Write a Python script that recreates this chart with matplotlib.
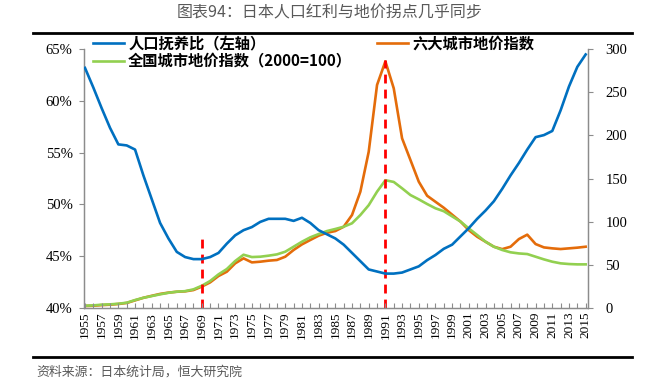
import matplotlib
matplotlib.use("Agg")
import matplotlib.pyplot as plt
from matplotlib.lines import Line2D
from matplotlib.ticker import FixedLocator, FuncFormatter

# ---------------- data ----------------
years = list(range(1955, 2016))

dependency_ratio = [  # 人口抚养比（左轴）, %
    63.2, 61.3, 59.3, 57.4, 55.8, 55.7, 55.3, 52.8, 50.5, 48.2,
    46.7, 45.4, 44.9, 44.7, 44.7, 44.9, 45.3, 46.2, 47.0, 47.5,
    47.8, 48.3, 48.6, 48.6, 48.6, 48.4, 48.7, 48.2, 47.5, 47.1,
    46.7, 46.1, 45.3, 44.5, 43.7, 43.5, 43.3, 43.3, 43.4, 43.7,
    44.0, 44.6, 45.1, 45.7, 46.1, 46.9, 47.7, 48.6, 49.4, 50.3,
    51.5, 52.8, 54.0, 55.3, 56.5, 56.7, 57.1, 59.1, 61.4, 63.3,
    64.5,
]

six_city_index = [  # 六大城市地价指数
    2.0, 2.3, 3.0, 3.5, 4.3, 5.5, 8.5, 11.5, 13.8, 16.0,
    17.5, 18.5, 19.0, 20.5, 24.5, 29.4, 36.8, 41.8, 51.5, 57.3,
    52.6, 53.4, 54.6, 55.4, 59.2, 67.0, 73.5, 78.6, 83.6, 87.0,
    89.0, 94.0, 107.6, 134.7, 181.0, 258.6, 286.0, 254.7, 196.6, 171.5,
    146.3, 130.0, 123.0, 116.0, 108.0, 100.0, 90.0, 82.4, 76.6, 70.8,
    68.0, 70.8, 79.7, 84.8, 73.9, 70.0, 68.9, 68.1, 68.9, 69.7,
    70.8,
]

national_index = [  # 全国城市地价指数（2000=100）
    2.3, 2.7, 3.5, 3.9, 4.6, 5.8, 8.9, 11.5, 13.5, 15.5,
    17.3, 18.6, 19.2, 21.3, 25.5, 31.0, 38.7, 44.9, 54.2, 61.5,
    58.8, 59.2, 60.4, 61.9, 65.0, 70.8, 76.6, 81.7, 85.5, 89.0,
    91.4, 94.0, 98.0, 107.6, 119.0, 134.7, 148.0, 146.0, 138.6, 130.8,
    125.8, 120.4, 115.4, 112.0, 106.0, 100.0, 92.0, 84.4, 76.6, 70.8,
    67.0, 64.3, 63.0, 62.3, 59.2, 56.1, 53.4, 51.5, 50.7, 50.3,
    50.3,
]

turning_years = [1969, 1991]
turning_tops = [83, 288]          # right-axis heights of the red dashed markers

left_ticks = [40, 45, 50, 55, 60, 65]
right_ticks = [0, 50, 100, 150, 200, 250, 300]
label_years = list(range(1955, 2016, 2))

title = "图表94：日本人口红利与地价拐点几乎同步"
source = "资料来源：日本统计局，恒大研究院"
names = ["人口抚养比（左轴）", "全国城市地价指数（2000=100）", "六大城市地价指数"]

# ---------------- style ----------------
BLUE = "#0070C0"
ORANGE = "#E46C0A"
GREEN = "#92D050"
RED = "#FF0000"
GRAY_AX = "#8C8C8C"
CJK = ["Noto Sans CJK SC", "DejaVu Sans"]
SERIF = "Liberation Serif"

W, H = 654, 381
fig = plt.figure(figsize=(W / 100, H / 100), dpi=100)

x0, x1 = 84.4, 588.0
y_top, y_bot = 49.3, 307.7
ax = fig.add_axes([x0 / W, 1 - y_bot / H, (x1 - x0) / W, (y_bot - y_top) / H])
ax2 = ax.twinx()

lw = 1.9
ax2.plot(years, six_city_index, color=ORANGE, lw=lw, solid_joinstyle="round", zorder=3)
ax2.plot(years, national_index, color=GREEN, lw=lw, solid_joinstyle="round", zorder=4)
ax2.vlines(turning_years, [0] * len(turning_years), turning_tops, colors=RED,
           linestyles=(0, (3.2, 2.2)), lw=2.0, zorder=5)
ax.plot(years, dependency_ratio, color=BLUE, lw=lw, solid_joinstyle="round", zorder=3)

ax.set_zorder(ax2.get_zorder() + 1)
ax.patch.set_visible(False)

ax.set_xlim(1954.93, 2015.28)
ax.set_ylim(40, 65)
ax2.set_ylim(0, 300)

ax.yaxis.set_major_locator(FixedLocator(left_ticks))
ax.yaxis.set_major_formatter(FuncFormatter(lambda v, p: f"{v:.0f}%"))
ax2.yaxis.set_major_locator(FixedLocator(right_ticks))

ax.xaxis.set_major_locator(FixedLocator(label_years))
ax.xaxis.set_minor_locator(FixedLocator(years))
ax.set_xticklabels([str(y) for y in label_years], rotation=90, fontfamily=SERIF, fontsize=9.6)

for a in (ax, ax2):
    for s in a.spines.values():
        s.set_color(GRAY_AX)
        s.set_linewidth(0.9)
    a.spines["top"].set_visible(False)

ax.tick_params(axis="x", which="both", direction="in", length=3.5, width=0.8,
               color=GRAY_AX, pad=3, labelcolor="black")
ax.tick_params(axis="y", direction="out", length=3.5, width=0.8, color=GRAY_AX, pad=5)
ax2.tick_params(axis="y", direction="out", length=3.5, width=0.8, color=GRAY_AX, pad=9)
for lab in ax.get_yticklabels() + ax2.get_yticklabels():
    lab.set_fontfamily(SERIF)
    lab.set_fontsize(10.5)

# ---------------- title, rules, source ----------------
fig.text(330 / W, 1 - 13 / H, title, ha="center", va="center", fontsize=11.5,
         color="#595959", family=CJK)
fig.add_artist(Line2D([33 / W, 632 / W], [1 - 32.5 / H] * 2, color="black", lw=2.0))
fig.add_artist(Line2D([33 / W, 632 / W], [1 - 356.5 / H] * 2, color="black", lw=2.0))
fig.text(36 / W, 1 - 372 / H, source, ha="left", va="center", fontsize=9.3,
         color="#595959", family=CJK)

# ---------------- legend (manual) ----------------
legend_items = [
    (BLUE, names[0], 92.7, 43.3),
    (GREEN, names[1], 92.7, 60.7),
    (ORANGE, names[2], 376.7, 43.3),
]
for col, txt, lx, ly in legend_items:
    fig.add_artist(Line2D([lx / W, (lx + 31.6) / W], [1 - ly / H] * 2, color=col, lw=lw))
    fig.text((lx + 35.5) / W, 1 - ly / H, txt, ha="left", va="center", fontsize=11,
             fontweight="bold", color="black", family=CJK)

fig.savefig("out.png", dpi=100)
